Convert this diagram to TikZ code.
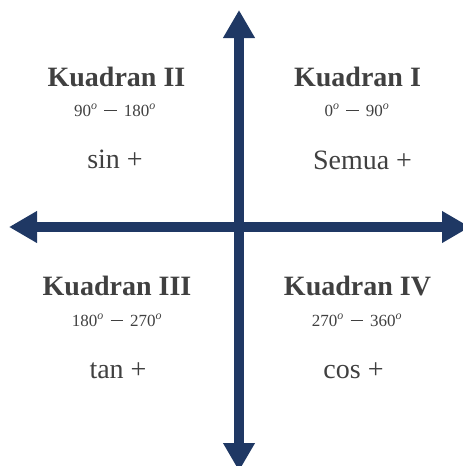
\documentclass[tikz,border=0pt]{standalone}
\usepackage{fontspec}
\setmainfont{Liberation Serif}
\usetikzlibrary{arrows.meta}
\definecolor{axisblue}{RGB}{31,56,100}
\definecolor{txtgray}{RGB}{64,64,64}
\newcommand{\dg}{\textsuperscript{\itshape o}}
\newcommand{\rng}[2]{#1\dg\hspace{0.4em}\rule[0.3em]{0.75em}{0.05em}\hspace{0.4em}#2\dg}
\tikzset{
  axisline/.style={draw=axisblue, line width=10pt, {Triangle[width=30pt,length=28pt]}-{Triangle[width=30pt,length=28pt]}},
  qtitle/.style={anchor=base, text=txtgray, inner sep=0pt, font=\fontsize{28}{31}\selectfont\bfseries},
  qrange/.style={anchor=base, text=txtgray, inner sep=0pt, font=\fontsize{17}{20}\selectfont},
  qsign/.style={anchor=base, text=txtgray, inner sep=0pt, font=\fontsize{28}{31}\selectfont}
}
\begin{document}
\begin{tikzpicture}[x=1pt,y=-1pt]
\useasboundingbox (0,0) rectangle (463,466);
\clip (0,0) rectangle (463,466);
\coordinate (top) at (239,10);
\coordinate (bottom) at (239,471);
\coordinate (left) at (9,227);
\coordinate (right) at (470,227);
\draw[axisline] (top) -- (bottom);
\draw[axisline] (left) -- (right);
% Quadrant II
\node[qtitle] (q2) at (116.5,86) {Kuadran II};
\node[qrange] (r2) at (115,116) {\rng{90}{180}};
\node[qsign] (s2) at (115,168) {sin +};
% Quadrant I
\node[qtitle] (q1) at (357.5,86) {Kuadran I};
\node[qrange] (r1) at (357,116) {\rng{0}{90}};
\node[qsign] (s1) at (362.5,169) {Semua +};
% Quadrant III
\node[qtitle] (q3) at (117,295) {Kuadran III};
\node[qrange] (r3) at (117,326) {\rng{180}{270}};
\node[qsign] (s3) at (118,378) {tan +};
% Quadrant IV
\node[qtitle] (q4) at (357.5,295) {Kuadran IV};
\node[qrange] (r4) at (357,326) {\rng{270}{360}};
\node[qsign] (s4) at (353.5,378) {cos +};
\end{tikzpicture}
\end{document}
